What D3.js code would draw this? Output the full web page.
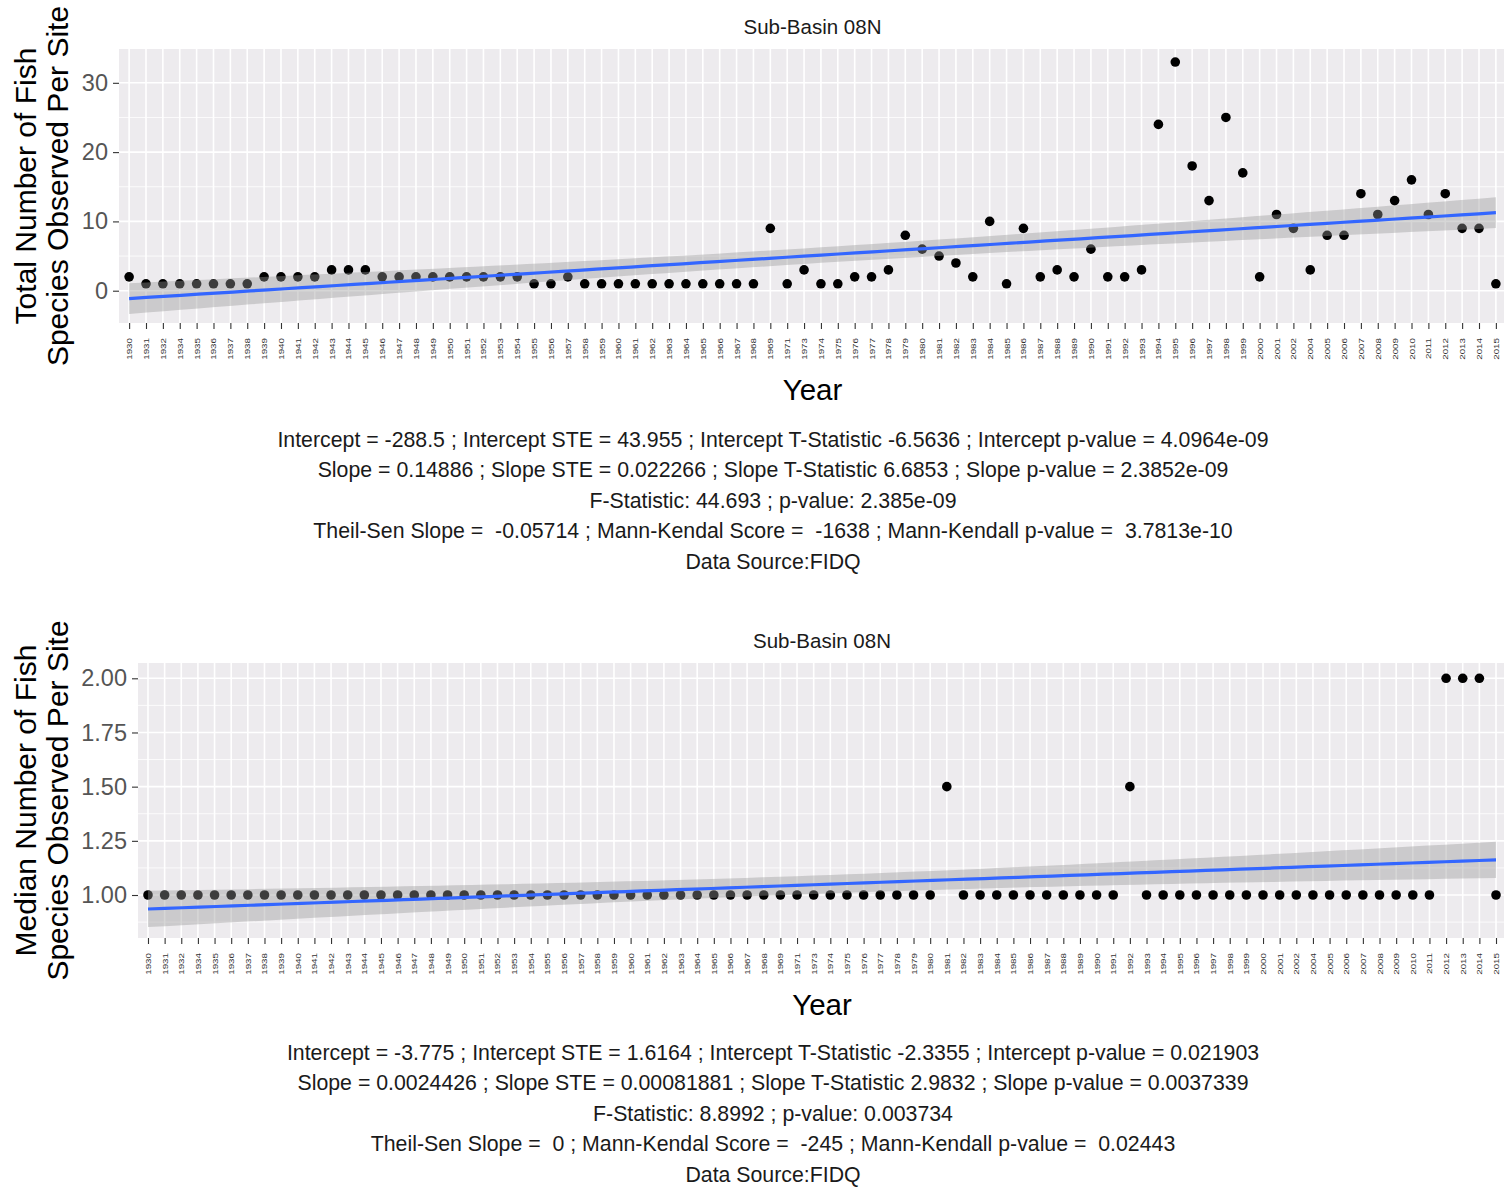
<!DOCTYPE html>
<html>
<head>
<meta charset="utf-8">
<script src="https://cdn.jsdelivr.net/npm/d3@7"></script>
<style>
  html, body { margin: 0; padding: 0; background: #ffffff; }
  svg { display: block; font-family: "Liberation Sans", Arial, sans-serif; }
  text { white-space: pre; }
</style>
</head>
<body>
<svg id="chart" width="1504" height="1188"></svg>
<script>
// Survey years (discrete categories on the x axis)
const years = [
  "1930","1931","1932","1934","1935","1936","1937","1938","1939","1940",
  "1941","1942","1943","1944","1945","1946","1947","1948","1949","1950",
  "1951","1952","1953","1954","1955","1956","1957","1958","1959","1960",
  "1961","1962","1963","1964","1965","1966","1967","1968","1969","1971",
  "1973","1974","1975","1976","1977","1978","1979","1980","1981","1982",
  "1983","1984","1985","1986","1987","1988","1989","1990","1991","1992",
  "1993","1994","1995","1996","1997","1998","1999","2000","2001","2002",
  "2004","2005","2006","2007","2008","2009","2010","2011","2012","2013",
  "2014","2015"
];

// Total number of fish species observed per site, by year
const totalSpecies = [
  2,1,1,1,1,1,1,1,2,2,
  2,2,3,3,3,2,2,2,2,2,
  2,2,2,2,1,1,2,1,1,1,
  1,1,1,1,1,1,1,1,9,1,
  3,1,1,2,2,3,8,6,5,4,
  2,10,1,9,2,3,2,6,2,2,
  3,24,33,18,13,25,17,2,11,9,
  3,8,8,14,11,13,16,11,14,9,
  9,1
];

// Median number of fish species observed per site, by year
const medianSpecies = [
  1,1,1,1,1,1,1,1,1,1,
  1,1,1,1,1,1,1,1,1,1,
  1,1,1,1,1,1,1,1,1,1,
  1,1,1,1,1,1,1,1,1,1,
  1,1,1,1,1,1,1,1,1.5,1,
  1,1,1,1,1,1,1,1,1,1.5,
  1,1,1,1,1,1,1,1,1,1,
  1,1,1,1,1,1,1,1,2,2,
  2,1
];

// Y axis tick values
const totalTicks = [0, 10, 20, 30];
const totalMinor = [5, 15, 25];
const medianTicks = [1.00, 1.25, 1.50, 1.75, 2.00];
const medianMinor = [0.875, 1.125, 1.375, 1.625, 1.875];

// Regression summaries printed under each panel
const totalStats = [
  "Intercept = -288.5 ; Intercept STE = 43.955 ; Intercept T-Statistic -6.5636 ; Intercept p-value = 4.0964e-09",
  "Slope = 0.14886 ; Slope STE = 0.022266 ; Slope T-Statistic 6.6853 ; Slope p-value = 2.3852e-09",
  "F-Statistic: 44.693 ; p-value: 2.385e-09",
  "Theil-Sen Slope =  -0.05714 ; Mann-Kendal Score =  -1638 ; Mann-Kendall p-value =  3.7813e-10",
  "Data Source:FIDQ"
];
const medianStats = [
  "Intercept = -3.775 ; Intercept STE = 1.6164 ; Intercept T-Statistic -2.3355 ; Intercept p-value = 0.021903",
  "Slope = 0.0024426 ; Slope STE = 0.00081881 ; Slope T-Statistic 2.9832 ; Slope p-value = 0.0037339",
  "F-Statistic: 8.8992 ; p-value: 0.003734",
  "Theil-Sen Slope =  0 ; Mann-Kendal Score =  -245 ; Mann-Kendall p-value =  0.02443",
  "Data Source:FIDQ"
];

const svg = d3.select("#chart");

// Ordinary least squares on the category position, with a 95% confidence band
function linearFit(values) {
  const n = values.length;
  const xs = values.map((_, i) => i);
  const xbar = d3.mean(xs), ybar = d3.mean(values);
  const sxx = d3.sum(xs, x => (x - xbar) ** 2);
  const sxy = d3.sum(xs, (x, i) => (x - xbar) * (values[i] - ybar));
  const b = sxy / sxx, a = ybar - b * xbar;
  const sse = d3.sum(xs, (x, i) => (values[i] - (a + b * x)) ** 2);
  const s = Math.sqrt(sse / (n - 2));
  const tq = 1.990; // t quantile, 0.975, df = 80
  const grid = d3.range(0, 80).map(k => k * (n - 1) / 79);
  return grid.map(x => {
    const fit = a + b * x;
    const se = s * Math.sqrt(1 / n + (x - xbar) ** 2 / sxx);
    return { x, fit, lo: fit - tq * se, hi: fit + tq * se };
  });
}

function drawPanel(cfg) {
  const g = svg.append("g");
  const { left, top, right, bottom } = cfg.box;

  const x = d3.scalePoint().domain(years).range([left, right]).padding(0.6);
  const xi = d3.scaleLinear().domain([0, years.length - 1])
    .range([x(years[0]), x(years[years.length - 1])]);
  const y = d3.scaleLinear().domain(cfg.yDomain).range([bottom, top]);

  // panel background
  g.append("rect").attr("x", left).attr("y", top)
    .attr("width", right - left).attr("height", bottom - top)
    .attr("fill", "#EDEBEE");

  // grid lines
  g.selectAll(".minor").data(cfg.minor).join("line")
    .attr("x1", left).attr("x2", right)
    .attr("y1", d => y(d)).attr("y2", d => y(d))
    .attr("stroke", "#ffffff").attr("stroke-width", 0.8);
  g.selectAll(".majorY").data(cfg.ticks).join("line")
    .attr("x1", left).attr("x2", right)
    .attr("y1", d => y(d)).attr("y2", d => y(d))
    .attr("stroke", "#ffffff").attr("stroke-width", 1.6);
  g.selectAll(".majorX").data(years).join("line")
    .attr("x1", d => x(d)).attr("x2", d => x(d))
    .attr("y1", top).attr("y2", bottom)
    .attr("stroke", "#ffffff").attr("stroke-width", 1.6);

  // points
  g.selectAll(".pt").data(cfg.values).join("circle")
    .attr("cx", (d, i) => x(years[i]))
    .attr("cy", d => y(d))
    .attr("r", 4.8)
    .attr("fill", "#000000");

  // fitted line and confidence band
  const fit = linearFit(cfg.values);
  g.append("path").datum(fit)
    .attr("d", d3.area().x(d => xi(d.x)).y0(d => y(d.lo)).y1(d => y(d.hi)))
    .attr("fill", "#999999").attr("fill-opacity", 0.4);
  g.append("path").datum(fit)
    .attr("d", d3.line().x(d => xi(d.x)).y(d => y(d.fit)))
    .attr("fill", "none").attr("stroke", "#3366FF").attr("stroke-width", 3.2);

  // y axis
  const yAxis = g.append("g").attr("transform", `translate(${left},0)`)
    .call(d3.axisLeft(y).tickValues(cfg.ticks).tickFormat(cfg.fmt)
      .tickSize(6).tickPadding(5));
  yAxis.select(".domain").remove();
  yAxis.selectAll(".tick line").attr("stroke", "#333333").attr("stroke-width", 1.1);
  yAxis.selectAll(".tick text").attr("fill", "#555555")
    .attr("font-size", 23.5).attr("font-family", "Liberation Sans, Arial, sans-serif");

  // x axis
  const xAxis = g.append("g").attr("transform", `translate(0,${bottom})`)
    .call(d3.axisBottom(x).tickSize(6).tickPadding(0));
  xAxis.select(".domain").remove();
  xAxis.selectAll(".tick line").attr("stroke", "#333333").attr("stroke-width", 1.1);
  xAxis.selectAll(".tick text")
    .attr("fill", "#333333").attr("font-size", 7)
    .attr("font-family", "Liberation Sans, Arial, sans-serif")
    .attr("text-anchor", "end").attr("dy", null).attr("y", 0)
    .attr("transform", "translate(2.5,15) rotate(-90) scale(1.4,1)");

  const cx = (left + right) / 2;

  // panel title
  g.append("text").attr("x", cx).attr("y", top - 15)
    .attr("text-anchor", "middle").attr("font-size", 20.5).attr("fill", "#1a1a1a")
    .text("Sub-Basin 08N");

  // x axis title
  g.append("text").attr("x", cx).attr("y", bottom + 77)
    .attr("text-anchor", "middle").attr("font-size", 29.5).attr("fill", "#000000")
    .text("Year");

  // y axis title (two lines)
  const cy = (top + bottom) / 2;
  cfg.yTitle.forEach((line, k) => {
    g.append("text")
      .attr("transform", `translate(${36 + k * 32},${cy}) rotate(-90)`)
      .attr("text-anchor", "middle").attr("font-size", 30).attr("fill", "#000000")
      .text(line);
  });

  // statistics caption
  g.selectAll(".stat").data(cfg.stats).join("text")
    .attr("x", 773)
    .attr("y", (d, i) => cfg.statsTop + i * 30.5)
    .attr("text-anchor", "middle").attr("font-size", 21.3).attr("fill", "#1a1a1a")
    .text(d => d);
}

drawPanel({
  box: { left: 119, top: 49, right: 1506, bottom: 323 },
  yDomain: [-4.66, 34.88],
  ticks: totalTicks, minor: totalMinor,
  fmt: d3.format("d"),
  values: totalSpecies,
  yTitle: ["Total Number of Fish", "Species Observed Per Site"],
  stats: totalStats, statsTop: 446.5
});

drawPanel({
  box: { left: 138, top: 663, right: 1506, bottom: 938 },
  yDomain: [0.8016, 2.0706],
  ticks: medianTicks, minor: medianMinor,
  fmt: d3.format(".2f"),
  values: medianSpecies,
  yTitle: ["Median Number of Fish", "Species Observed Per Site"],
  stats: medianStats, statsTop: 1059.5
});
</script>
</body>
</html>
